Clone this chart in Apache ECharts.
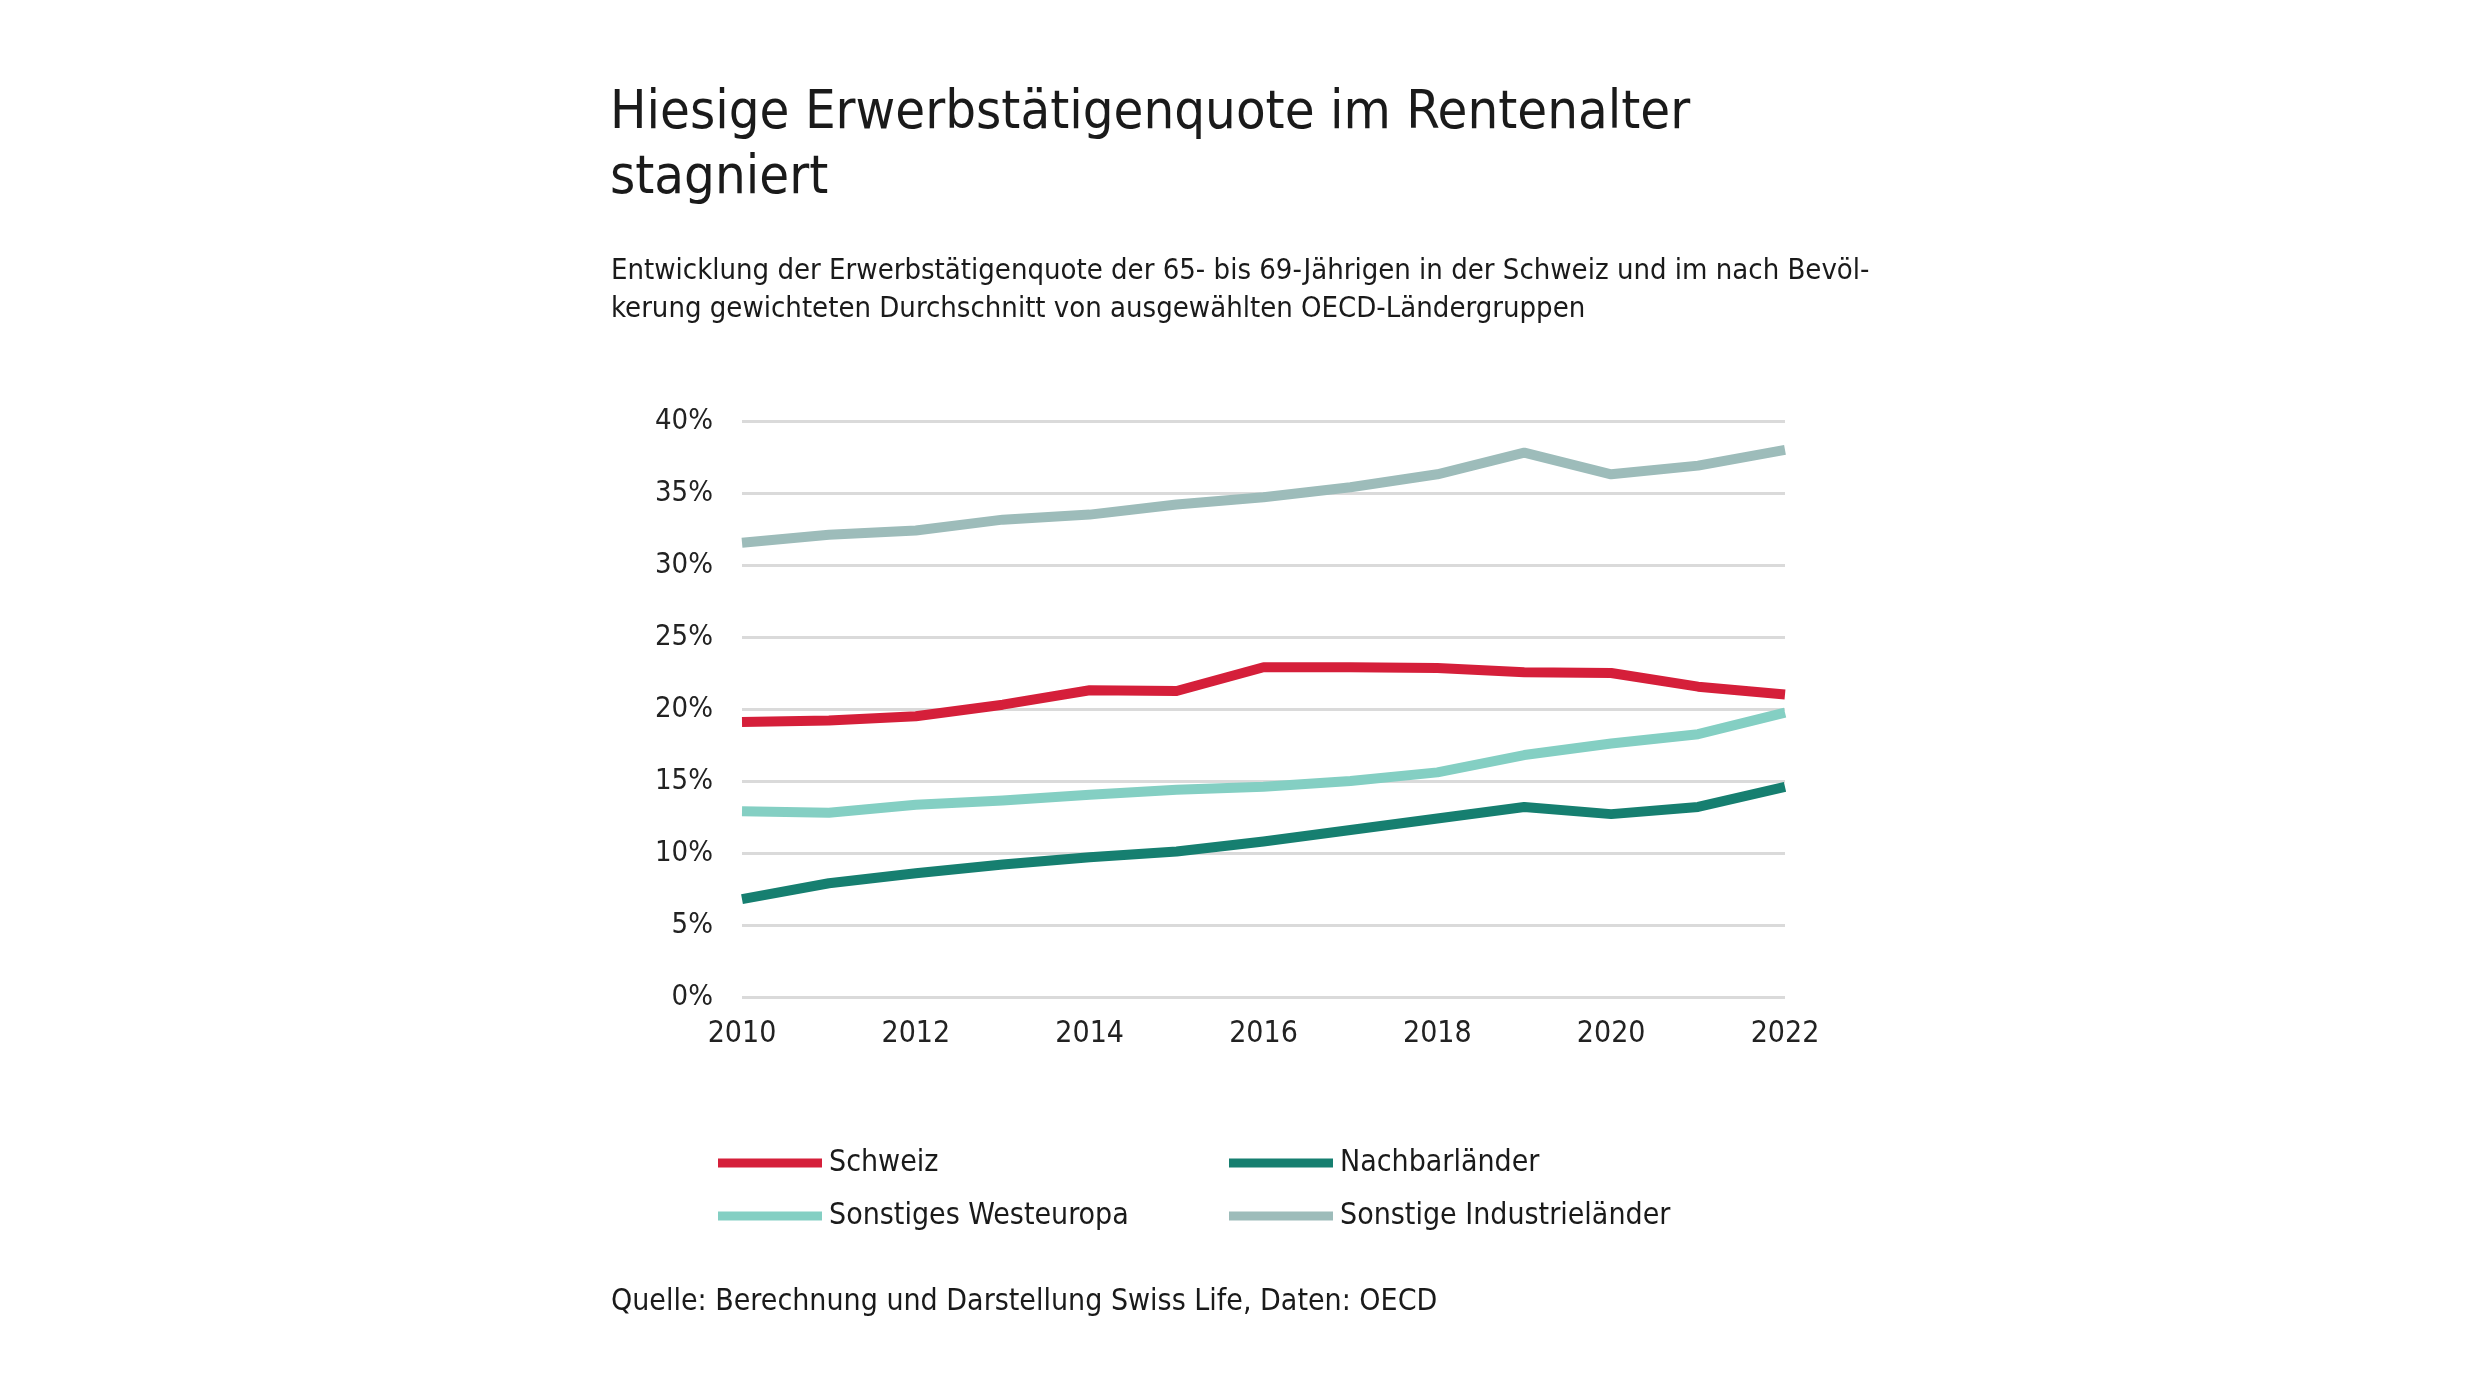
<!DOCTYPE html>
<html>
<head>
<meta charset="utf-8">
<script src="https://cdn.jsdelivr.net/npm/echarts@6/dist/echarts.min.js"></script>
<style>
  html, body { margin: 0; padding: 0; background: #fff; }
  #chart { width: 2480px; height: 1395px; }
</style>
</head>
<body>
<div id="chart"></div>
<script>
// Jahre auf der x-Achse
const years = ['2010', '2011', '2012', '2013', '2014', '2015', '2016', '2017', '2018', '2019', '2020', '2021', '2022'];

// Erwerbstätigenquote 65- bis 69-Jährige, in %
const schweiz = [19.1, 19.2, 19.5, 20.3, 21.3, 21.25, 22.9, 22.9, 22.85, 22.55, 22.5, 21.55, 21.0];
const nachbarlaender = [6.8, 7.9, 8.6, 9.2, 9.7, 10.1, 10.8, 11.6, 12.4, 13.2, 12.7, 13.2, 14.6];
const westeuropa = [12.9, 12.8, 13.35, 13.65, 14.05, 14.4, 14.6, 15.0, 15.6, 16.8, 17.6, 18.25, 19.75];
const industrielaender = [31.55, 32.1, 32.4, 33.15, 33.5, 34.2, 34.7, 35.4, 36.3, 37.8, 36.3, 36.9, 38.0];

const seriesNames = ['Schweiz', 'Nachbarländer', 'Sonstiges Westeuropa', 'Sonstige Industrieländer'];
const colors = ['#d51f3a', '#167f70', '#84cfc3', '#9dbcba'];

const font = '"Liberation Sans Narrow", "DejaVu Sans Condensed", "Noto Sans", sans-serif';

const chart = echarts.init(document.getElementById('chart'));

// ein Legendeneintrag pro Position (zweispaltig)
const legendPos = [
  { left: 718, top: 1148 },
  { left: 1229, top: 1148 },
  { left: 718, top: 1201 },
  { left: 1229, top: 1201 }
];

const option = {
  backgroundColor: '#ffffff',
  color: colors,
  textStyle: { fontFamily: font },
  title: [
    {
      text: 'Hiesige Erwerbstätigenquote im Rentenalter\nstagniert',
      left: 610,
      top: 81,
      padding: 0,
      textStyle: { fontFamily: font, fontSize: 54, fontWeight: 'normal', color: '#1a1a1a', lineHeight: 65 }
    },
    {
      text: 'Entwicklung der Erwerbstätigenquote der 65- bis 69-Jährigen in der Schweiz und im nach Bevöl-\nkerung gewichteten Durchschnitt von ausgewählten OECD-Ländergruppen',
      left: 611,
      top: 252,
      padding: 0,
      textStyle: { fontFamily: font, fontSize: 29, fontWeight: 'normal', color: '#1a1a1a', lineHeight: 38 }
    },
    {
      text: 'Quelle: Berechnung und Darstellung Swiss Life, Daten: OECD',
      left: 611,
      top: 1287,
      padding: 0,
      textStyle: { fontFamily: font, fontSize: 30, fontWeight: 'normal', color: '#1a1a1a' }
    }
  ],
  legend: seriesNames.map((name, i) => ({
    data: [name],
    left: legendPos[i].left,
    top: legendPos[i].top,
    padding: 0,
    icon: 'rect',
    itemWidth: 104,
    itemHeight: 9,
    itemGap: 0,
    selectedMode: false,
    textStyle: { fontFamily: font, fontSize: 30, color: '#1a1a1a', padding: [0, 0, 0, 2] }
  })),
  grid: {
    left: 742,
    right: 2480 - 1785,
    top: 421,
    bottom: 1395 - 997,
    containLabel: false
  },
  xAxis: {
    type: 'category',
    data: years,
    boundaryGap: false,
    axisLine: { show: false },
    axisTick: { show: false },
    axisLabel: { interval: 1, margin: 22, fontSize: 30, color: '#222', fontFamily: font }
  },
  yAxis: {
    type: 'value',
    min: 0,
    max: 40,
    interval: 5,
    axisLine: { show: false },
    axisTick: { show: false },
    axisLabel: { formatter: '{value}%', margin: 29, fontSize: 29, color: '#222', fontFamily: font },
    splitLine: { lineStyle: { color: '#dadada', width: 3 } }
  },
  series: [schweiz, nachbarlaender, westeuropa, industrielaender].map((data, i) => ({
    name: seriesNames[i],
    type: 'line',
    data: data,
    symbol: 'none',
    smooth: false,
    lineStyle: { width: 10, color: colors[i], join: 'round' },
    itemStyle: { color: colors[i] },
    z: 4 - i
  })),
  animation: false
};

chart.setOption(option);
</script>
</body>
</html>
